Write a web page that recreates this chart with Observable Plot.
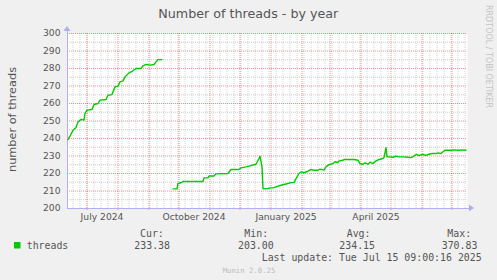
<!DOCTYPE html>
<html>
<head>
<meta charset="utf-8">
<script src="https://cdn.jsdelivr.net/npm/d3@7"></script>
<script src="https://cdn.jsdelivr.net/npm/@observablehq/plot@0.6"></script>
<style>
  html, body { margin: 0; padding: 0; background: #F0F0F0; }
  svg { display: block; }
</style>
</head>
<body>
<div id="chart"></div>
<script>
// ---- data ----
const title = "Number of threads - by year";
const yLabel = "number of threads";
const seriesName = "threads";
const seriesColor = "#00CC00";

const dates1 = ["2024-06-12","2024-06-14","2024-06-17","2024-06-20","2024-06-22","2024-06-25","2024-06-28","2024-06-29",
  "2024-07-01","2024-07-06","2024-07-08","2024-07-12","2024-07-14","2024-07-20","2024-07-22","2024-07-26","2024-07-29",
  "2024-08-01","2024-08-03","2024-08-06","2024-08-08","2024-08-12","2024-08-16","2024-08-19","2024-08-24","2024-08-26",
  "2024-08-29","2024-09-02","2024-09-06","2024-09-08","2024-09-10","2024-09-14"];
const values1 = [239.4,241.3,244.7,246.3,249.5,250.9,250.5,254.3,
  256.2,256.6,259.4,260.0,261.9,262.3,264.7,265.1,269.5,
  269.9,272.4,272.9,275.2,277.5,278.7,280.0,280.0,281.5,
  282.3,281.9,282.3,283.8,285.1,285.1];

const dates2 = ["2024-09-25","2024-09-29","2024-09-30","2024-10-03","2024-10-05","2024-10-25","2024-10-26","2024-10-30",
  "2024-10-31","2024-11-05","2024-11-07","2024-11-19","2024-11-22","2024-11-30","2024-12-02","2024-12-07","2024-12-10",
  "2024-12-17","2024-12-20","2024-12-21","2024-12-23","2024-12-24","2024-12-27","2025-01-01","2025-01-03","2025-01-06",
  "2025-01-11","2025-01-16","2025-01-21","2025-01-24","2025-01-26","2025-01-29","2025-01-31","2025-02-03","2025-02-07",
  "2025-02-10","2025-02-12","2025-02-15","2025-02-17","2025-02-19","2025-02-23","2025-02-25","2025-02-28","2025-03-04",
  "2025-03-06","2025-03-09","2025-03-10","2025-03-14","2025-03-15","2025-03-25","2025-03-29","2025-03-31","2025-04-03",
  "2025-04-05","2025-04-08","2025-04-10","2025-04-13","2025-04-16","2025-04-19","2025-04-23","2025-04-24","2025-04-26",
  "2025-04-27","2025-04-28","2025-05-03","2025-05-06","2025-05-09","2025-05-14","2025-05-18","2025-05-21","2025-05-24",
  "2025-05-26","2025-05-29","2025-06-02","2025-06-05","2025-06-08","2025-06-11","2025-06-15","2025-06-17","2025-06-20",
  "2025-06-22","2025-06-24","2025-06-30","2025-07-03","2025-07-08","2025-07-11","2025-07-15"];
const values2 = [211.2,211.2,214.3,214.7,215.4,215.4,217.5,217.5,
  218.6,218.6,219.8,220.0,222.3,222.3,223.2,223.8,224.2,
  225.3,228.6,229.9,223.8,211.4,211.2,211.8,211.8,212.4,
  213.3,214.0,214.8,214.8,217.1,220.0,220.9,220.5,221.3,
  222.3,221.9,221.9,221.9,222.5,221.9,223.8,225.1,225.7,
  226.7,226.3,227.2,227.6,228.0,228.0,227.6,225.7,225.3,
  226.1,225.3,226.5,225.7,227.2,228.0,228.6,229.1,234.8,
  229.5,229.5,229.3,229.9,229.5,229.5,229.3,229.1,229.9,
  230.9,230.3,230.9,230.3,231.0,231.4,231.4,231.8,231.4,
  232.4,233.3,233.3,233.5,233.3,233.5,233.3];

const yMajorTicks = [200,210,220,230,240,250,260,270,280,290,300];
const yMinorTicks = [205,215,225,235,245,255,265,275,285,295];
const xLabelDates = ["2024-07-16","2024-10-16","2025-01-16","2025-04-16"];
const xLabelTexts = ["July 2024","October 2024","January 2025","April 2025"];

const legendHeaders = ["Cur:","Min:","Avg:","Max:"];
const legendValues = ["233.38","203.00","234.15","370.83"];
const lastUpdate = "Last update: Tue Jul 15 09:00:16 2025";
const watermark = "RRDTOOL / TOBI OETIKER";
const footer = "Munin 2.0.25";

// ---- build ----
const parse = s => new Date(s + "T00:00:00Z");
const seg1 = dates1.map((d, i) => ({date: parse(d), value: values1[i]}));
const seg2 = dates2.map((d, i) => ({date: parse(d), value: values2[i]}));
const xDomain = [new Date("2024-06-11T12:00:00Z"), new Date("2025-07-16T12:00:00Z")];
const monthTicks = d3.utcMonth.range(xDomain[0], xDomain[1]);
const weekTicks = d3.utcMonday.range(xDomain[0], xDomain[1]);
const labelDates = xLabelDates.map(parse);
const labelMap = new Map(labelDates.map((d, i) => [+d, xLabelTexts[i]]));

const axisColor = "#B0B0F0";
const textColor = "#555555";

const chart = Plot.plot({
  width: 497,
  height: 280,
  marginLeft: 67,
  marginRight: 30,
  marginTop: 33,
  marginBottom: 72,
  style: {background: "#F0F0F0", fontFamily: "DejaVu Sans", fontSize: "9.2px", color: textColor},
  x: {type: "utc", domain: xDomain},
  y: {domain: [200, 300]},
  marks: [
    Plot.frame({fill: "white", stroke: null}),
    Plot.ruleX(weekTicks, {stroke: "#A8A8A8", strokeOpacity: 0.5, strokeDasharray: "1,1"}),
    Plot.ruleY(yMinorTicks, {stroke: "#A8A8A8", strokeOpacity: 0.6, strokeDasharray: "1,1"}),
    Plot.ruleX(monthTicks, {stroke: "#FF0000", strokeOpacity: 0.45, strokeDasharray: "1,1", insetBottom: -3}),
    Plot.ruleY(yMajorTicks, {stroke: "#FF0000", strokeOpacity: 0.45, strokeDasharray: "1,1"}),
    Plot.ruleY([200], {stroke: axisColor, insetRight: -3}),
    Plot.ruleX([xDomain[0]], {stroke: axisColor, insetTop: -3}),
    Plot.axisY({ticks: yMajorTicks, tickSize: 0, tickPadding: 7, label: null, fill: textColor}),
    Plot.axisX({ticks: labelDates, tickSize: 0, tickPadding: 5, label: null, fill: textColor,
      tickFormat: d => labelMap.get(+d)}),
    Plot.line(seg1, {x: "date", y: "value", stroke: seriesColor, strokeWidth: 1.4}),
    Plot.line(seg2, {x: "date", y: "value", stroke: seriesColor, strokeWidth: 1.4})
  ]
});

document.getElementById("chart").appendChild(chart);

const svg = d3.select(chart);
const xs = chart.scale("x"), ys = chart.scale("y");
const x0 = xs.range[0], x1 = xs.range[1];
const yB = ys.range[0], yT = ys.range[1];

// axis arrows
svg.append("path")
  .attr("d", `M${x1 + 2},${yB - 3.5} L${x1 + 7},${yB} L${x1 + 2},${yB + 3.5} Z`)
  .attr("fill", axisColor);
svg.append("path")
  .attr("d", `M${x0 - 3.5},${yT - 2} L${x0},${yT - 7} L${x0 + 3.5},${yT - 2} Z`)
  .attr("fill", axisColor);

function addText(opts) {
  const t = svg.append("text")
    .attr("text-anchor", opts.anchor || "start")
    .attr("fill", opts.fill || textColor)
    .style("font-family", opts.font || "DejaVu Sans")
    .style("font-size", opts.size)
    .text(opts.text);
  if (opts.transform) t.attr("transform", opts.transform);
  else t.attr("x", opts.x).attr("y", opts.y);
  return t;
}

// title
addText({x: 248.3, y: 18, anchor: "middle", size: "12.7px", text: title});
// y label
addText({transform: `translate(15.5, ${(yB + yT) / 2 - 1}) rotate(-90)`, anchor: "middle", size: "11.3px", text: yLabel});
// watermark
addText({transform: "translate(486, 5) rotate(90)", fill: "#C4C4C4", size: "8px", text: watermark});

// legend
const mono = "DejaVu Sans Mono";
svg.append("rect").attr("x", 14).attr("y", 242).attr("width", 6.5).attr("height", 6.5).attr("fill", seriesColor);
addText({x: 26.7, y: 249.3, font: mono, size: "9.9px", text: seriesName});
const headerX = [140, 244.3, 346.7, 447.3];
const valueX = [134.3, 238, 339.3, 441.7];
legendHeaders.forEach((h, i) => {
  addText({x: headerX[i], y: 236.5, font: mono, size: "9.9px", text: h});
  addText({x: valueX[i], y: 249.3, font: mono, size: "9.9px", text: legendValues[i]});
});
addText({x: 261.7, y: 260.5, font: mono, size: "9.9px", text: lastUpdate});
addText({x: 222.7, y: 272.5, font: mono, fill: "#BBBBBB", size: "7.3px", text: footer});
</script>
</body>
</html>
